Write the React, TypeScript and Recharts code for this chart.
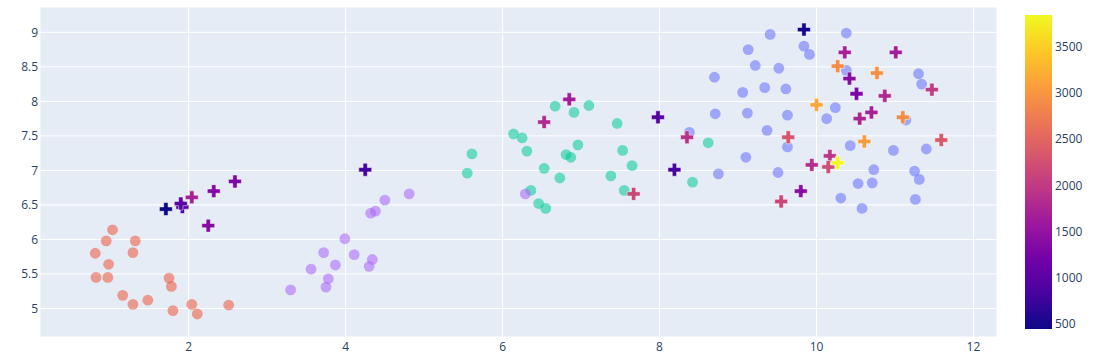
import React from 'react';
import { ScatterChart, Scatter, XAxis, YAxis, CartesianGrid } from 'recharts';

// cluster points
const blueCluster = [
  { x: 9.41, y: 8.97 }, { x: 10.38, y: 8.99 }, { x: 9.13, y: 8.75 }, { x: 9.84, y: 8.8 },
  { x: 9.91, y: 8.68 }, { x: 9.22, y: 8.52 }, { x: 9.52, y: 8.48 }, { x: 10.38, y: 8.45 },
  { x: 8.7, y: 8.35 }, { x: 11.3, y: 8.4 }, { x: 11.34, y: 8.25 }, { x: 9.34, y: 8.2 },
  { x: 9.61, y: 8.18 }, { x: 9.06, y: 8.13 }, { x: 10.24, y: 7.91 }, { x: 8.71, y: 7.82 },
  { x: 9.12, y: 7.83 }, { x: 9.63, y: 7.8 }, { x: 10.13, y: 7.75 }, { x: 11.14, y: 7.73 },
  { x: 9.37, y: 7.58 }, { x: 8.38, y: 7.55 }, { x: 9.63, y: 7.34 }, { x: 10.43, y: 7.36 },
  { x: 10.98, y: 7.29 }, { x: 11.4, y: 7.31 }, { x: 9.1, y: 7.19 }, { x: 8.75, y: 6.95 },
  { x: 9.51, y: 6.97 }, { x: 10.73, y: 7.01 }, { x: 11.25, y: 6.99 }, { x: 11.31, y: 6.87 },
  { x: 10.53, y: 6.81 }, { x: 10.71, y: 6.82 }, { x: 10.31, y: 6.6 }, { x: 11.26, y: 6.58 },
  { x: 10.58, y: 6.45 },
];

const salmonCluster = [
  { x: 0.81, y: 5.8 }, { x: 0.95, y: 5.98 }, { x: 1.03, y: 6.14 }, { x: 1.32, y: 5.98 },
  { x: 1.29, y: 5.81 }, { x: 0.98, y: 5.64 }, { x: 0.82, y: 5.45 }, { x: 0.97, y: 5.45 },
  { x: 1.16, y: 5.19 }, { x: 1.29, y: 5.06 }, { x: 1.48, y: 5.12 }, { x: 1.75, y: 5.44 },
  { x: 1.78, y: 5.32 }, { x: 1.8, y: 4.97 }, { x: 2.04, y: 5.06 }, { x: 2.11, y: 4.92 },
  { x: 2.51, y: 5.05 },
];

const tealCluster = [
  { x: 5.55, y: 6.96 }, { x: 5.61, y: 7.24 }, { x: 6.14, y: 7.53 }, { x: 6.25, y: 7.47 },
  { x: 6.31, y: 7.28 }, { x: 6.53, y: 7.03 }, { x: 6.36, y: 6.71 }, { x: 6.46, y: 6.52 },
  { x: 6.55, y: 6.45 }, { x: 6.67, y: 7.93 }, { x: 6.91, y: 7.84 }, { x: 7.1, y: 7.94 },
  { x: 6.96, y: 7.37 }, { x: 6.81, y: 7.23 }, { x: 6.87, y: 7.19 }, { x: 6.73, y: 6.89 },
  { x: 7.46, y: 7.68 }, { x: 7.53, y: 7.29 }, { x: 7.65, y: 7.07 }, { x: 7.38, y: 6.92 },
  { x: 7.55, y: 6.71 }, { x: 8.62, y: 7.4 }, { x: 8.42, y: 6.83 },
];

const purpleCluster = [
  { x: 3.3, y: 5.27 }, { x: 3.56, y: 5.57 }, { x: 3.72, y: 5.81 }, { x: 3.75, y: 5.31 },
  { x: 3.78, y: 5.43 }, { x: 3.87, y: 5.63 }, { x: 3.99, y: 6.01 }, { x: 4.11, y: 5.78 },
  { x: 4.3, y: 5.61 }, { x: 4.34, y: 5.71 }, { x: 4.32, y: 6.38 }, { x: 4.38, y: 6.41 },
  { x: 4.5, y: 6.57 }, { x: 4.81, y: 6.66 }, { x: 6.29, y: 6.66 },
];

// crosses, v = colour value
const crossPoints = [
  { x: 1.71, y: 6.44, v: 446 }, { x: 1.92, y: 6.47, v: 900 }, { x: 1.9, y: 6.52, v: 1000 },
  { x: 2.04, y: 6.61, v: 1700 }, { x: 2.25, y: 6.2, v: 1380 }, { x: 2.32, y: 6.7, v: 1350 },
  { x: 2.59, y: 6.84, v: 1300 }, { x: 4.25, y: 7.01, v: 830 }, { x: 6.53, y: 7.7, v: 1800 },
  { x: 6.85, y: 8.03, v: 1650 }, { x: 7.98, y: 7.77, v: 950 }, { x: 8.19, y: 7.01, v: 850 },
  { x: 8.35, y: 7.48, v: 1900 }, { x: 7.67, y: 6.66, v: 2150 }, { x: 9.84, y: 9.04, v: 520 },
  { x: 10.36, y: 8.71, v: 1700 }, { x: 11.01, y: 8.71, v: 1650 }, { x: 10.27, y: 8.51, v: 2900 },
  { x: 10.77, y: 8.41, v: 2950 }, { x: 10.42, y: 8.33, v: 1400 }, { x: 10.51, y: 8.11, v: 1300 },
  { x: 10.87, y: 8.08, v: 1800 }, { x: 11.47, y: 8.17, v: 2000 }, { x: 10.0, y: 7.95, v: 3150 },
  { x: 10.7, y: 7.84, v: 1700 }, { x: 10.55, y: 7.75, v: 1750 }, { x: 11.1, y: 7.77, v: 2900 },
  { x: 9.64, y: 7.48, v: 2300 }, { x: 10.61, y: 7.42, v: 3050 }, { x: 11.59, y: 7.44, v: 2350 },
  { x: 10.17, y: 7.21, v: 1950 }, { x: 9.94, y: 7.08, v: 1850 }, { x: 10.15, y: 7.05, v: 2200 },
  { x: 10.27, y: 7.11, v: 3843 }, { x: 9.8, y: 6.7, v: 1400 }, { x: 9.55, y: 6.55, v: 2150 },
];

const xTicks = [2, 4, 6, 8, 10, 12];
const yTicks = [5, 5.5, 6, 6.5, 7, 7.5, 8, 8.5, 9];
const colorTicks = [500, 1000, 1500, 2000, 2500, 3000, 3500];

const plasma = ['#0d0887', '#46039f', '#7201a8', '#9c179e', '#bd3786', '#d8576b', '#ed7953', '#fb9f3a', '#fdca26', '#f0f921'];
const cMin = 446;
const cMax = 3843;

const hex = (c: string) => [1, 3, 5].map((i) => parseInt(c.slice(i, i + 2), 16));

const plasmaColor = (v: number) => {
  const t = Math.max(0, Math.min(1, (v - cMin) / (cMax - cMin))) * (plasma.length - 1);
  const i = Math.min(Math.floor(t), plasma.length - 2);
  const f = t - i;
  const a = hex(plasma[i]);
  const b = hex(plasma[i + 1]);
  const c = a.map((ch, k) => Math.round(ch + (b[k] - ch) * f));
  return `rgb(${c[0]},${c[1]},${c[2]})`;
};

const R = 5.4;

const dot = (color: string) => (props: any) => (
  <circle cx={props.cx} cy={props.cy} r={R} fill={color} fillOpacity={0.55} />
);

const Cross = (props: any) => {
  const { cx, cy, payload } = props;
  const a = R * 0.4;
  const b = R * 1.2;
  const d = `M${cx + b},${cy + a}H${cx + a}V${cy + b}H${cx - a}V${cy + a}H${cx - b}V${cy - a}H${cx - a}V${cy - b}H${cx + a}V${cy - a}H${cx + b}Z`;
  return <path d={d} fill={plasmaColor(payload.v)} stroke="#fff" strokeWidth={0.5} />;
};

const font = '"Open Sans", verdana, arial, sans-serif';
const tickStyle = { fill: '#2a3f5f', fontSize: 12, fontFamily: font };

const barTop = 15;
const barBottom = 329;
const barY = (v: number) => barTop + ((cMax - v) / (cMax - cMin)) * (barBottom - barTop);

const ColorBar = () => (
  <svg width={1093} height={355} style={{ position: 'absolute', left: 0, top: 0, pointerEvents: 'none' }}>
    <defs>
      <linearGradient id="plasmaBar" x1="0" y1="1" x2="0" y2="0">
        {plasma.map((c, i) => (
          <stop key={c} offset={`${(i / (plasma.length - 1)) * 100}%`} stopColor={c} />
        ))}
      </linearGradient>
    </defs>
    <rect x={1025} y={barTop} width={27} height={barBottom - barTop} fill="url(#plasmaBar)" />
    {colorTicks.map((t) => (
      <text key={t} x={1055} y={barY(t)} dy="0.355em" style={tickStyle}>
        {t}
      </text>
    ))}
  </svg>
);

export default function App() {
  return (
    <div style={{ position: 'absolute', left: 0, top: 0, width: 1093, height: 355, background: '#fff' }}>
      <ScatterChart width={1093} height={355} margin={{ top: 7, right: 96, bottom: 0, left: 0 }}>
        <CartesianGrid fill="#E5ECF6" stroke="#fff" strokeWidth={1} />
        <XAxis
          type="number"
          dataKey="x"
          domain={[0.106, 12.3]}
          ticks={xTicks}
          allowDataOverflow
          axisLine={false}
          tickLine={false}
          tickSize={0}
          tickMargin={5}
          height={18}
          tick={tickStyle}
        />
        <YAxis
          type="number"
          dataKey="y"
          domain={[4.587, 9.367]}
          ticks={yTicks}
          allowDataOverflow
          axisLine={false}
          tickLine={false}
          tickSize={0}
          tickMargin={2}
          width={40}
          tick={tickStyle}
        />
        <Scatter data={blueCluster} shape={dot('#636EFA')} isAnimationActive={false} />
        <Scatter data={salmonCluster} shape={dot('#EF553B')} isAnimationActive={false} />
        <Scatter data={tealCluster} shape={dot('#00CC96')} isAnimationActive={false} />
        <Scatter data={purpleCluster} shape={dot('#AB63FA')} isAnimationActive={false} />
        <Scatter data={crossPoints} shape={Cross} isAnimationActive={false} />
      </ScatterChart>
      <ColorBar />
    </div>
  );
}
